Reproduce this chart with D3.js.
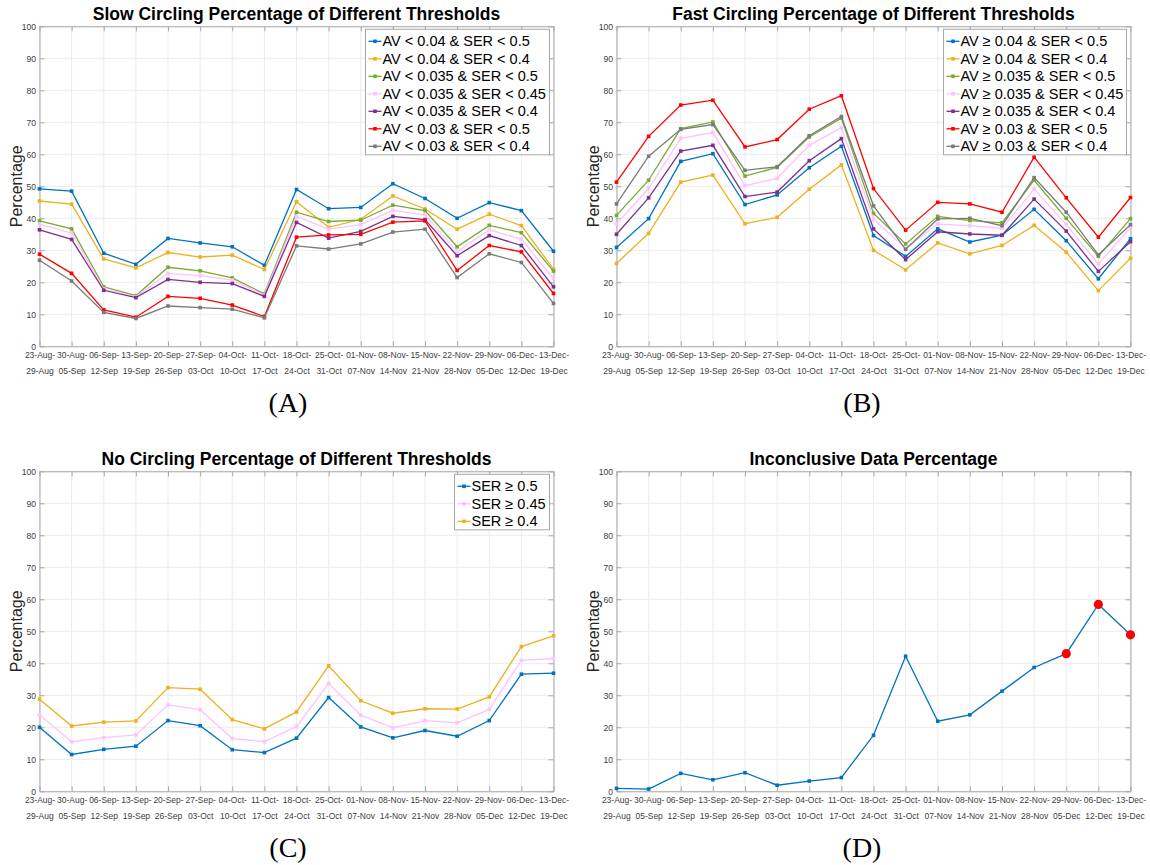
<!DOCTYPE html>
<html>
<head>
<meta charset="utf-8">
<script src="https://cdn.jsdelivr.net/npm/d3@7"></script>
<style>
  body { margin: 0; background: #fff; }
  svg { font-family: "Liberation Sans", Arial, sans-serif; }
  .tick text { fill: #404040; }
</style>
</head>
<body>
<div id="figure"></div>
<script>
// week labels (two lines each)
var weekStart = ["23-Aug-", "30-Aug-", "06-Sep-", "13-Sep-", "20-Sep-", "27-Sep-", "04-Oct-", "11-Oct-", "18-Oct-",
  "25-Oct-", "01-Nov-", "08-Nov-", "15-Nov-", "22-Nov-", "29-Nov-", "06-Dec-", "13-Dec-"];
var weekEnd = ["29-Aug", "05-Sep", "12-Sep", "19-Sep", "26-Sep", "03-Oct", "10-Oct", "17-Oct", "24-Oct",
  "31-Oct", "07-Nov", "14-Nov", "21-Nov", "28-Nov", "05-Dec", "12-Dec", "19-Dec"];
var yTicks = [0, 10, 20, 30, 40, 50, 60, 70, 80, 90, 100];

// (A) slow circling
var slowLabels = ["AV < 0.04 & SER < 0.5", "AV < 0.04 & SER < 0.4", "AV < 0.035 & SER < 0.5", "AV < 0.035 & SER < 0.45",
  "AV < 0.035 & SER < 0.4", "AV < 0.03 & SER < 0.5", "AV < 0.03 & SER < 0.4"];
var slow1 = [49.2, 48.5, 29.1, 25.6, 33.7, 32.3, 31.1, 25.3, 49.0, 43.0, 43.4, 50.8, 46.2, 40.0, 44.9, 42.4, 29.7];
var slow2 = [45.4, 44.4, 27.3, 24.5, 29.3, 27.9, 28.5, 24.0, 45.2, 37.2, 39.7, 47.0, 42.9, 36.6, 41.3, 37.7, 24.1];
var slow3 = [39.2, 36.7, 18.6, 15.8, 24.7, 23.6, 21.4, 16.4, 41.9, 39.0, 39.4, 44.1, 42.4, 31.1, 37.8, 35.5, 23.5];
var slow4 = [38.2, 35.4, 17.9, 15.5, 22.8, 22.1, 20.7, 16.0, 40.6, 36.6, 38.0, 42.5, 41.1, 29.6, 36.4, 33.5, 21.1];
var slow5 = [36.4, 33.4, 17.5, 15.2, 20.9, 20.0, 19.6, 15.6, 38.7, 33.8, 35.9, 40.6, 39.6, 28.3, 34.6, 31.5, 18.6];
var slow6 = [28.8, 22.8, 11.4, 9.1, 15.6, 15.0, 12.9, 9.3, 34.1, 34.8, 35.0, 38.8, 39.2, 23.7, 31.5, 29.5, 16.5];
var slow7 = [26.9, 20.4, 10.6, 8.7, 12.6, 12.1, 11.6, 8.9, 31.4, 30.4, 32.0, 35.7, 36.6, 21.5, 28.9, 26.2, 13.4];

// (B) fast circling
var fastLabels = ["AV \u2265 0.04 & SER < 0.5", "AV \u2265 0.04 & SER < 0.4", "AV \u2265 0.035 & SER < 0.5", "AV \u2265 0.035 & SER < 0.45",
  "AV \u2265 0.035 & SER < 0.4", "AV \u2265 0.03 & SER < 0.5", "AV \u2265 0.03 & SER < 0.4"];
var fast1 = [30.9, 39.9, 57.8, 60.2, 44.3, 47.3, 55.8, 62.5, 34.6, 28.1, 36.7, 32.6, 34.7, 42.8, 33.0, 21.1, 33.6];
var fast2 = [25.9, 35.3, 51.3, 53.5, 38.3, 40.3, 49.1, 56.7, 30.0, 23.9, 32.3, 28.9, 31.5, 37.8, 29.4, 17.4, 27.5];
var fast3 = [40.9, 51.9, 68.0, 70.1, 53.2, 55.9, 65.4, 71.3, 41.5, 32.0, 40.6, 39.3, 38.6, 51.9, 40.0, 28.1, 39.9];
var fast4 = [38.2, 49.3, 65.0, 66.8, 50.2, 52.5, 62.8, 68.3, 39.7, 30.6, 38.2, 37.7, 36.9, 49.1, 38.1, 25.7, 37.1];
var fast5 = [35.0, 46.4, 61.0, 62.8, 46.8, 48.2, 58.0, 64.9, 36.7, 27.1, 35.8, 35.1, 34.7, 46.0, 36.0, 23.4, 32.7];
var fast6 = [51.3, 65.6, 75.4, 76.9, 62.3, 64.6, 74.1, 78.3, 49.3, 36.3, 45.0, 44.5, 41.9, 59.1, 46.4, 34.1, 46.5];
var fast7 = [44.5, 59.4, 67.8, 69.3, 55.0, 56.1, 65.8, 71.8, 43.9, 30.3, 39.8, 40.0, 37.7, 52.7, 41.9, 28.6, 38.0];

// (C) no circling
var noneLabels = ["SER \u2265 0.5", "SER \u2265 0.45", "SER \u2265 0.4"];
var none1 = [20.0, 11.5, 13.1, 14.1, 22.1, 20.5, 13.0, 12.1, 16.6, 29.3, 20.1, 16.7, 19.0, 17.2, 22.1, 36.6, 36.9];
var none2 = [23.9, 15.5, 16.8, 17.6, 27.0, 25.5, 16.5, 15.5, 20.2, 33.7, 23.8, 19.8, 22.1, 21.4, 25.6, 40.9, 41.5];
var none3 = [28.8, 20.4, 21.6, 22.0, 32.4, 31.9, 22.4, 19.5, 24.8, 39.2, 28.3, 24.4, 25.8, 25.7, 29.5, 45.2, 48.6];

// (D) inconclusive
var inconclusive = [0.9, 0.7, 5.6, 3.6, 5.8, 1.9, 3.2, 4.3, 17.5, 42.2, 21.9, 23.9, 31.3, 38.7, 43.0, 58.4, 48.9];
var flaggedWeeks = ["29-Nov-", "06-Dec-", "13-Dec-"];

var blue = "#0072bd", yellow = "#edb120", green = "#77ac30", pink = "#ffc2ff",
  purple = "#7e2f8e", red = "#ff0000", gray = "#7a7a7a";
var sevenColors = [blue, yellow, green, pink, purple, red, gray];

var width = 1150;
var height = 865;

var svg = d3.select("#figure")
  .append("svg")
  .attr("width", width)
  .attr("height", height);

function drawPanel(p) {
  var g = svg.append("g");

  var xScale = d3.scalePoint()
    .domain(weekStart)
    .range([p.left, p.right])
    .padding(0);
  var yScale = d3.scaleLinear()
    .domain([0, 100])
    .range([p.bottom, p.top]);

  // grid
  g.append("g").selectAll("line.gx").data(weekStart).enter()
    .append("line")
    .attr("x1", function(d) { return xScale(d); })
    .attr("x2", function(d) { return xScale(d); })
    .attr("y1", p.top).attr("y2", p.bottom)
    .attr("stroke", "#ebebeb");
  g.append("g").selectAll("line.gy").data(yTicks).enter()
    .append("line")
    .attr("x1", p.left).attr("x2", p.right)
    .attr("y1", function(d) { return yScale(d); })
    .attr("y2", function(d) { return yScale(d); })
    .attr("stroke", "#ebebeb");

  // axes (ticks point inward like matlab)
  var xAxis = d3.axisBottom(xScale).tickSizeInner(-5).tickSizeOuter(0).tickFormat("");
  var xAxisTop = d3.axisTop(xScale).tickSizeInner(-5).tickSizeOuter(0).tickFormat("");
  var yAxis = d3.axisLeft(yScale).tickValues(yTicks).tickSizeInner(-5).tickSizeOuter(0).tickPadding(3.5);
  var yAxisRight = d3.axisRight(yScale).tickValues(yTicks).tickSizeInner(-5).tickSizeOuter(0).tickFormat("");

  var xa = g.append("g").attr("transform", "translate(0," + p.bottom + ")").call(xAxis);
  g.append("g").attr("transform", "translate(0," + p.top + ")").call(xAxisTop);
  var ya = g.append("g").attr("transform", "translate(" + p.left + ",0)").call(yAxis);
  g.append("g").attr("transform", "translate(" + p.right + ",0)").call(yAxisRight);
  g.selectAll(".domain, .tick line").attr("stroke", "#a8a8a8");
  ya.selectAll("text").attr("font-size", "8.6px").attr("font-family", null);

  // two-line week labels
  xa.selectAll(".tick").each(function(d, i) {
    var t = d3.select(this).append("text")
      .attr("fill", "#404040")
      .attr("font-size", "8.5px")
      .attr("text-anchor", "middle");
    t.append("tspan").attr("x", 0).attr("y", 12).text(weekStart[i]);
    t.append("tspan").attr("x", 0).attr("y", 28).text(weekEnd[i]);
  });

  // lines
  var line = d3.line()
    .x(function(d, i) { return xScale(weekStart[i]); })
    .y(function(d) { return yScale(d); });

  p.series.forEach(function(s, k) {
    g.append("path")
      .datum(s)
      .attr("d", line)
      .attr("fill", "none")
      .attr("stroke", p.colors[k])
      .attr("stroke-width", 1.3);
    g.selectAll(null).data(s).enter()
      .append("rect")
      .attr("x", function(d, i) { return xScale(weekStart[i]) - 1.8; })
      .attr("y", function(d) { return yScale(d) - 1.8; })
      .attr("width", 3.6)
      .attr("height", 3.6)
      .attr("fill", p.colors[k]);
  });

  if (p.flagged) {
    g.selectAll(null).data(p.flagged).enter()
      .append("circle")
      .attr("cx", function(d) { return xScale(d); })
      .attr("cy", function(d) { return yScale(p.series[0][weekStart.indexOf(d)]); })
      .attr("r", 4.6)
      .attr("fill", red);
  }

  // title
  g.append("text")
    .attr("x", (p.left + p.right) / 2)
    .attr("y", p.top - 6)
    .attr("text-anchor", "middle")
    .attr("font-size", "17.5px")
    .attr("font-weight", "bold")
    .attr("fill", "#000")
    .text(p.title);

  // y label
  g.append("text")
    .attr("transform", "translate(" + (p.left - 17.5) + "," + ((p.top + p.bottom) / 2) + ")rotate(-90)")
    .attr("text-anchor", "middle")
    .attr("font-size", "16px")
    .attr("fill", "#262626")
    .text("Percentage");

  // panel letter
  g.append("text")
    .attr("x", p.letterX)
    .attr("y", p.bottom + 66)
    .attr("text-anchor", "middle")
    .attr("font-family", "'Liberation Serif', 'DejaVu Serif', serif")
    .attr("font-size", "28px")
    .attr("fill", "#000")
    .text(p.letter);

  // legend
  if (p.labels) {
    var rowH = 17.5;
    var lg = g.append("g")
      .attr("transform", "translate(" + (p.right - 4 - p.legendW) + "," + (p.top + 3) + ")");
    lg.append("rect")
      .attr("width", p.legendW)
      .attr("height", p.labels.length * rowH + 3)
      .attr("fill", "#fff")
      .attr("stroke", "#a8a8a8");
    p.labels.forEach(function(lab, k) {
      var cy = 12 + k * rowH;
      lg.append("line")
        .attr("x1", 3).attr("x2", 16)
        .attr("y1", cy).attr("y2", cy)
        .attr("stroke", p.colors[k])
        .attr("stroke-width", 1.3);
      lg.append("rect")
        .attr("x", 7.7).attr("y", cy - 1.8)
        .attr("width", 3.6).attr("height", 3.6)
        .attr("fill", p.colors[k]);
      lg.append("text")
        .attr("x", 17)
        .attr("y", cy + 5.2)
        .attr("font-size", "14.5px")
        .attr("fill", "#000")
        .text(lab);
    });
  }
}

drawPanel({
  left: 39.5, right: 553.5, top: 26.3, bottom: 346.3,
  title: "Slow Circling Percentage of Different Thresholds",
  series: [slow1, slow2, slow3, slow4, slow5, slow6, slow7],
  colors: sevenColors, labels: slowLabels, legendW: 184,
  letter: "(A)", letterX: 288
});

drawPanel({
  left: 616.5, right: 1130.5, top: 26.3, bottom: 346.3,
  title: "Fast Circling Percentage of Different Thresholds",
  series: [fast1, fast2, fast3, fast4, fast5, fast6, fast7],
  colors: sevenColors, labels: fastLabels, legendW: 183,
  letter: "(B)", letterX: 862
});

drawPanel({
  left: 39.5, right: 553.5, top: 471.3, bottom: 791.3,
  title: "No Circling Percentage of Different Thresholds",
  series: [none1, none2, none3],
  colors: [blue, pink, yellow], labels: noneLabels, legendW: 95,
  letter: "(C)", letterX: 288
});

drawPanel({
  left: 616.5, right: 1130.5, top: 471.3, bottom: 791.3,
  title: "Inconclusive Data Percentage",
  series: [inconclusive],
  colors: [blue], flagged: flaggedWeeks,
  letter: "(D)", letterX: 862
});
</script>
</body>
</html>
